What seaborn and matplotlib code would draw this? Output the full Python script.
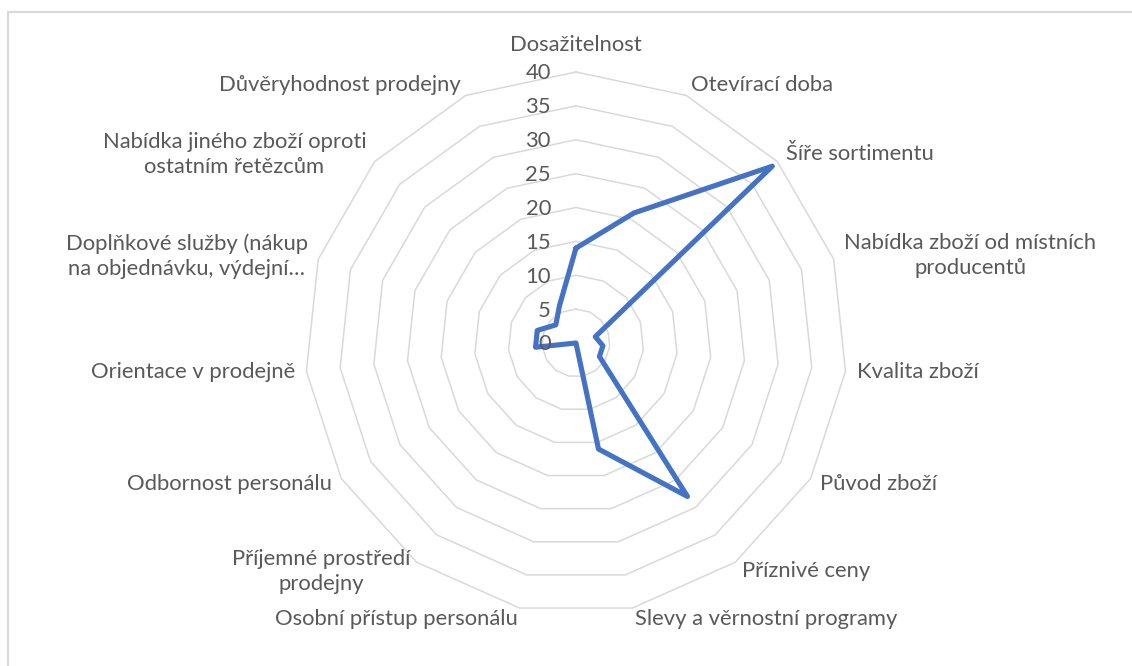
import numpy as np
import pandas as pd
import matplotlib
matplotlib.use("Agg")
import matplotlib.pyplot as plt
from matplotlib.lines import Line2D
import seaborn as sns

# Survey factors (clockwise from the top) and their scores
categories = [
    "Dosažitelnost",
    "Otevírací doba",
    "Šíře sortimentu",
    "Nabídka zboží od místních\nproducentů",
    "Kvalita zboží",
    "Původ zboží",
    "Příznivé ceny",
    "Slevy a věrnostní programy",
    "Osobní přístup personálu",
    "Příjemné prostředí\nprodejny",
    "Odbornost personálu",
    "Orientace v prodejně",
    "Doplňkové služby (nákup\nna objednávku, výdejní…",
    "Nabídka jiného zboží oproti\nostatním řetězcům",
    "Důvěryhodnost prodejny",
]
scores = [14, 21, 39, 3, 4, 4, 28, 16, 0, 0, 0, 6, 6, 4, 6]
ring_values = [5, 10, 15, 20, 25, 30, 35, 40]
tick_values = [0, 5, 10, 15, 20, 25, 30, 35, 40]

TEXT = "#595959"
GRID = "#D9D9D9"
LINE = "#4472C4"
FS = 15.8

sns.set_style("white")
plt.rcParams["font.family"] = ["Lato", "DejaVu Sans"]

fig = plt.figure(figsize=(11.32, 6.66), dpi=100)
fig.patch.set_facecolor("white")

ax = fig.add_axes([0.2694, 0.0781, 0.4788, 0.8138], projection="polar")
ax.set_theta_zero_location("N")
ax.set_theta_direction(-1)
ax.set_ylim(0, 40)
ax.set_xticks([])
ax.set_yticks([])
ax.grid(False)
ax.spines["polar"].set_visible(False)
ax.patch.set_alpha(0)

n = len(categories)
angles = np.arange(n) * 2 * np.pi / n
angles_closed = np.append(angles, angles[0])

# Polygonal rings
for r in ring_values:
    ax.plot(angles_closed, [r] * (n + 1), color=GRID, lw=1.1, zorder=1, clip_on=False)

# Score polygon
df = pd.DataFrame({"theta": angles_closed, "score": scores + scores[:1]})
sns.lineplot(data=df, x="theta", y="score", ax=ax, sort=False, color=LINE,
             lw=3.7, zorder=3, clip_on=False, estimator=None)
ax.set_xlabel("")
ax.set_ylabel("")

# Radial tick labels to the left of the top spoke
for v in tick_values:
    ax.annotate(str(v), xy=(0, v), xytext=(-18, -1), textcoords="offset points",
                ha="right", va="center", fontsize=FS, color=TEXT,
                annotation_clip=False)

# Category labels around the outer ring
pad = 8
for ang, lab in zip(angles, categories):
    s, c = np.sin(ang), np.cos(ang)
    if abs(s) < 0.05:
        off = (0, 19.5)
        ha = "center"
    else:
        off = (pad * s, pad * c)
        ha = "left" if s > 0 else "right"
    ax.annotate(lab, xy=(ang, 40), xytext=off, textcoords="offset points",
                ha=ha, va="center", multialignment="center", linespacing=1.3,
                fontsize=FS, color=TEXT, annotation_clip=False)

# Chart frame (top and left edges)
fig.add_artist(Line2D([8 / 1132, 1], [1 - 12 / 666, 1 - 12 / 666],
                      transform=fig.transFigure, color=GRID, lw=1.5))
fig.add_artist(Line2D([8 / 1132, 8 / 1132], [0, 1 - 12 / 666],
                      transform=fig.transFigure, color=GRID, lw=1.5))

fig.savefig("out.png", dpi=100, facecolor="white")
